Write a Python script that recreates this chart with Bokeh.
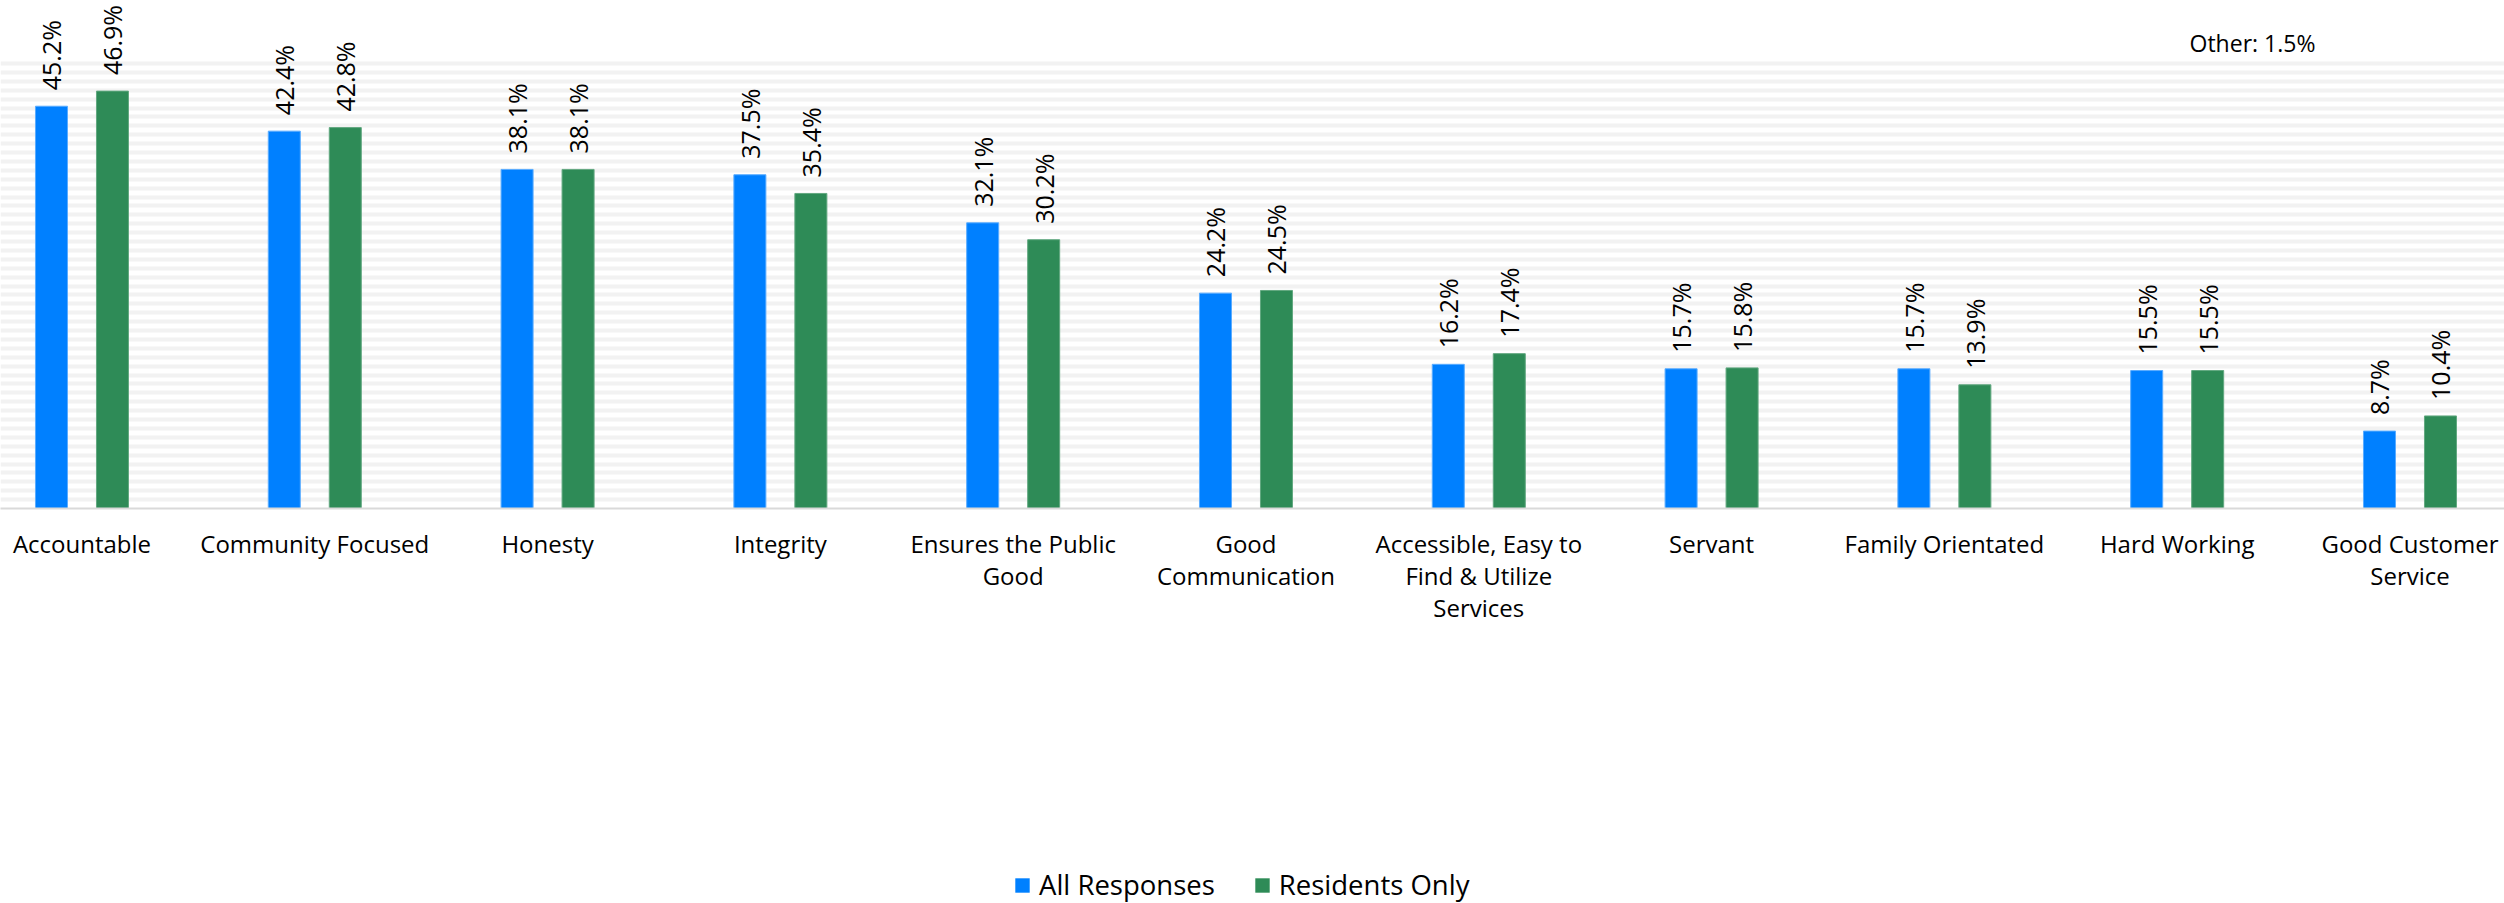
import numpy as np
from bokeh.plotting import figure
from bokeh.layouts import column
from bokeh.models import (ColumnDataSource, LabelSet, Label, Legend, LegendItem,
                          FixedTicker, Range1d)
from bokeh.core.properties import value
from bokeh.embed import file_html
from bokeh.resources import INLINE

# ---------------- data ----------------
categories = ["Accountable", "Community Focused", "Honesty", "Integrity",
              "Ensures the Public\nGood", "Good\nCommunication",
              "Accessible, Easy to\nFind & Utilize\nServices", "Servant",
              "Family Orientated", "Hard Working", "Good Customer\nService"]
all_responses = [45.2, 42.4, 38.1, 37.5, 32.1, 24.2, 16.2, 15.7, 15.7, 15.5, 8.7]
residents_only = [46.9, 42.8, 38.1, 35.4, 30.2, 24.5, 17.4, 15.8, 13.9, 15.5, 10.4]
series_names = ["All Responses", "Residents Only"]
other_text = "Other: 1.5%"

# ---------------- styles ----------------
FONT = "Open Sans"
BLUE = "#0080FF"
GREEN = "#2E8B57"
offset = 0.131
bar_w = 0.1375

idx = np.arange(len(categories))
src_a = ColumnDataSource(dict(x=idx - offset, top=all_responses,
                              txt=[f"{v:.1f}%" for v in all_responses]))
src_r = ColumnDataSource(dict(x=idx + offset, top=residents_only,
                              txt=[f"{v:.1f}%" for v in residents_only]))

p = figure(width=2504, height=850,
           x_range=Range1d(-0.350, 10.406), y_range=Range1d(0, 57.08),
           output_backend="svg", toolbar_location=None,
           y_axis_location=None,
           min_border_left=0, min_border_right=0, min_border_top=0,
           min_border_bottom=342, outline_line_color=None,
           background_fill_color="white", border_fill_color="white")

# grid stripes
p.xgrid.visible = False
p.ygrid.ticker = FixedTicker(ticks=list(range(1, 51)))
p.ygrid.grid_line_color = "#f2f2f2"
p.ygrid.grid_line_width = 4
p.ygrid.bounds = (0, 50)

bar_a = dict(fill_color=BLUE, line_color="#5aacff", line_width=1)
bar_r = dict(fill_color=GREEN, line_color="#62a880", line_width=1)
p.vbar(x="x", top="top", width=bar_w, bottom=0, source=src_a, **bar_a)
p.vbar(x="x", top="top", width=bar_w, bottom=0, source=src_r, **bar_r)

for src in (src_a, src_r):
    p.add_layout(LabelSet(x="x", y="top", text="txt", source=src,
                          angle=np.pi / 2, text_align="left",
                          text_baseline="middle", y_offset=16,
                          text_font=value(FONT), text_font_size=value("25px"),
                          text_color="black"))

p.add_layout(Label(x=9.053, y=52.25, text=other_text, text_align="left",
                   text_baseline="middle", text_font=FONT,
                   text_font_size="23px", text_color="black"))

# x axis
ax = p.xaxis[0]
ax.ticker = FixedTicker(ticks=list(range(len(categories))))
ax.major_label_overrides = {int(i): c for i, c in enumerate(categories)}
ax.major_tick_line_color = None
ax.minor_tick_line_color = None
ax.major_tick_out = 0
ax.major_tick_in = 0
ax.axis_line_color = "#d9d9d9"
ax.axis_line_width = 2
ax.major_label_standoff = 18
ax.major_label_text_font = FONT
ax.major_label_text_font_size = "24px"
ax.major_label_text_color = "black"
ax.major_label_text_line_height = 0.98

# legend strip (separate small figure directly below the chart)
lg = figure(width=2504, height=53, x_range=Range1d(0, 1), y_range=Range1d(0, 1),
            output_backend="svg", toolbar_location=None,
            x_axis_location=None, y_axis_location=None,
            min_border_left=0, min_border_right=0, min_border_top=0,
            min_border_bottom=0, outline_line_color=None,
            background_fill_color="white", border_fill_color="white")
lg.xgrid.visible = False
lg.ygrid.visible = False
# zero-height proxy glyphs: they only feed the legend swatches
proxy = dict(x=[0.5], top=[0.0])
la = lg.vbar(x="x", top="top", bottom=0, width=0.01, source=ColumnDataSource(proxy),
             fill_color=BLUE, line_color=None)
lr = lg.vbar(x="x", top="top", bottom=0, width=0.01, source=ColumnDataSource(proxy),
             fill_color=GREEN, line_color=None)

legend = Legend(items=[LegendItem(label=series_names[0], renderers=[la]),
                       LegendItem(label=series_names[1], renderers=[lr])],
                location=(1013, 0), orientation="horizontal",
                glyph_width=18, glyph_height=18, label_standoff=8,
                spacing=38, padding=0, margin=0,
                border_line_color=None, background_fill_alpha=0,
                label_text_font=FONT, label_text_font_size="27.5px",
                label_text_color="black")
lg.add_layout(legend)

layout = column(p, lg, spacing=0)
open("out.html", "w").write(file_html(layout, INLINE))
